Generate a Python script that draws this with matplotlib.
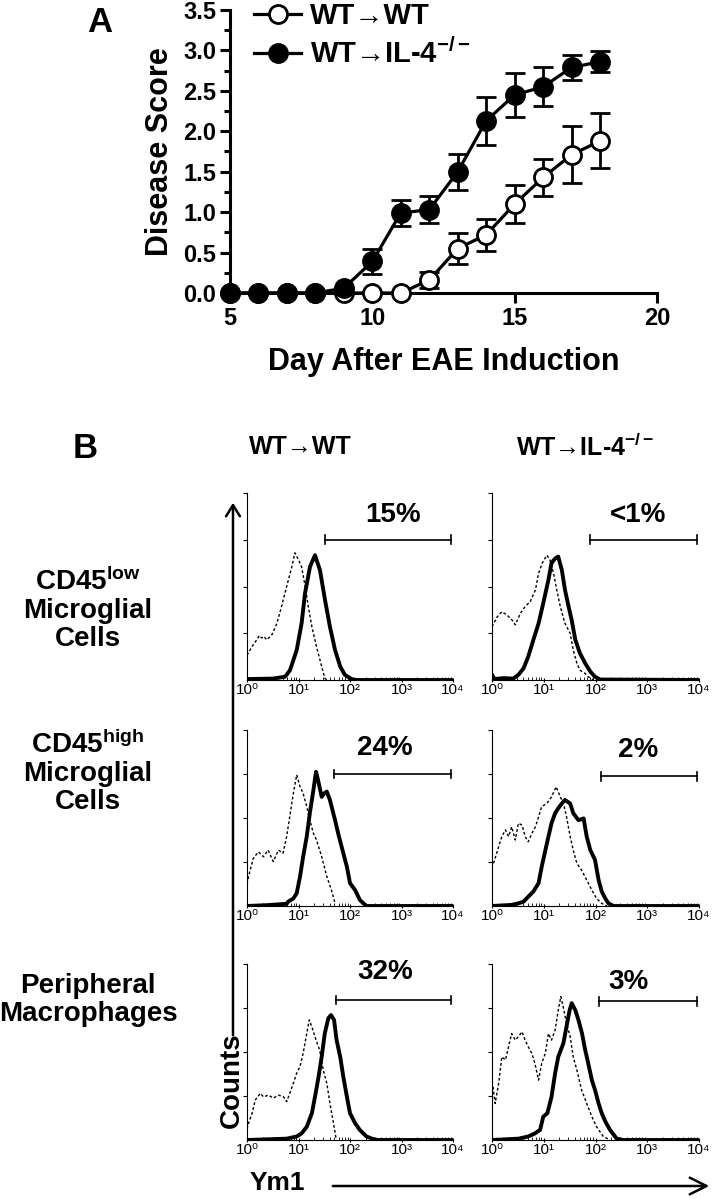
import matplotlib
matplotlib.use("Agg")
import matplotlib.pyplot as plt
import numpy as np
from matplotlib import font_manager

# ---------------- data ----------------
days = np.arange(5, 19)
wt_wt = [0, 0, 0, 0, 0, 0, 0, 0.16, 0.55, 0.72, 1.10, 1.43, 1.71, 1.88]
wt_wt_err = [0, 0, 0, 0, 0, 0, 0, 0.10, 0.19, 0.20, 0.23, 0.23, 0.35, 0.34]
wt_il4 = [0, 0, 0, 0, 0.06, 0.39, 0.99, 1.03, 1.50, 2.13, 2.45, 2.55, 2.79, 2.86]
wt_il4_err = [0, 0, 0, 0, 0, 0.16, 0.16, 0.17, 0.22, 0.30, 0.27, 0.24, 0.15, 0.13]

# histograms: x in log10(Ym1), y in axis tick units (0..4)
# row 1, WT->WT
h11_sx = [0, 0.5, 0.74, 0.835, 0.965, 1.06, 1.126, 1.223, 1.32, 1.417, 1.515, 1.61, 1.71, 1.81, 1.90, 2.03, 2.13, 4.0]
h11_sy = [0.02, 0.03, 0.07, 0.21, 0.64, 1.21, 1.85, 2.42, 2.67, 2.35, 1.71, 1.14, 0.64, 0.29, 0.11, 0.02, 0, 0]
h11_dx = [0, 0.1, 0.19, 0.24, 0.285, 0.33, 0.38, 0.43, 0.48, 0.58, 0.67, 0.77, 0.87, 0.93, 1.0, 1.06, 1.13, 1.19, 1.26, 1.35, 1.45, 1.51, 1.55]
h11_dy = [0.53, 0.72, 0.86, 0.95, 0.90, 0.93, 0.86, 0.91, 0.96, 1.21, 1.57, 2.0, 2.42, 2.72, 2.57, 2.42, 2.0, 1.57, 1.14, 0.71, 0.29, 0.04, 0]
# row 1, WT->IL-4-/-
h12_sx = [0, 0.05, 0.22, 0.41, 0.51, 0.61, 0.70, 0.80, 0.90, 0.99, 1.09, 1.15, 1.22, 1.28, 1.35, 1.41, 1.48, 1.54, 1.61, 1.70, 1.80, 1.90, 1.99, 2.09, 4.0]
h12_sy = [0.11, 0.02, 0.04, 0.03, 0.11, 0.25, 0.50, 0.86, 1.21, 1.64, 2.14, 2.50, 2.60, 2.64, 2.35, 1.93, 1.57, 1.28, 0.86, 0.57, 0.36, 0.18, 0.07, 0.01, 0]
h12_dx = [0, 0.1, 0.19, 0.29, 0.39, 0.45, 0.55, 0.64, 0.74, 0.84, 0.90, 0.97, 1.06, 1.12, 1.19, 1.25, 1.32, 1.41, 1.51, 1.57, 1.64, 1.70, 1.80, 1.86, 1.96]
h12_dy = [1.14, 1.35, 1.46, 1.39, 1.28, 1.18, 1.43, 1.57, 1.68, 1.93, 2.28, 2.50, 2.67, 2.57, 2.28, 1.93, 1.57, 1.21, 1.0, 0.64, 0.36, 0.21, 0.14, 0.07, 0]
# row 2, WT->WT
h21_sx = [0, 0.4, 0.77, 0.80, 0.90, 0.965, 1.03, 1.09, 1.16, 1.22, 1.29, 1.34, 1.38, 1.45, 1.50, 1.55, 1.61, 1.71, 1.77, 1.87, 1.94, 2.0, 2.10, 2.19, 2.26, 2.32, 4.0]
h21_sy = [0, 0.02, 0.05, 0.10, 0.17, 0.29, 0.67, 1.12, 1.58, 2.11, 2.64, 3.05, 2.86, 2.48, 2.56, 2.60, 2.41, 1.95, 1.65, 1.20, 0.89, 0.52, 0.36, 0.14, 0.06, 0, 0]
h21_dx = [0.0, 0.03, 0.12, 0.22, 0.32, 0.41, 0.51, 0.61, 0.70, 0.77, 0.83, 0.90, 0.965, 1.03, 1.09, 1.16, 1.22, 1.29, 1.35, 1.45, 1.55, 1.64, 1.71]
h21_dy = [0.5, 0.67, 1.08, 1.23, 1.12, 1.27, 1.01, 1.27, 1.20, 1.58, 2.03, 2.56, 2.98, 2.71, 2.56, 2.26, 1.95, 1.65, 1.50, 1.12, 0.67, 0.36, 0.06]
# row 2, WT->IL-4-/-
h22_sx = [0, 0.38, 0.51, 0.61, 0.70, 0.80, 0.90, 0.96, 1.06, 1.15, 1.22, 1.28, 1.35, 1.41, 1.51, 1.57, 1.67, 1.77, 1.83, 1.90, 1.99, 2.06, 2.12, 2.19, 2.25, 2.35, 4.0]
h22_sy = [0, 0.025, 0.06, 0.10, 0.21, 0.33, 0.52, 0.89, 1.42, 1.88, 2.11, 2.22, 2.33, 2.41, 2.33, 2.11, 1.95, 1.99, 1.58, 1.27, 1.05, 0.59, 0.33, 0.17, 0.06, 0, 0]
h22_dx = [0.03, 0.13, 0.19, 0.26, 0.32, 0.38, 0.45, 0.51, 0.58, 0.64, 0.70, 0.77, 0.84, 0.90, 0.96, 1.06, 1.15, 1.24, 1.32, 1.38, 1.44, 1.51, 1.57, 1.64, 1.73, 1.83, 1.93, 2.02, 2.12, 2.22]
h22_dy = [0.97, 1.35, 1.58, 1.73, 1.58, 1.80, 1.50, 1.88, 1.84, 1.58, 1.46, 1.65, 1.80, 2.03, 2.26, 2.33, 2.48, 2.71, 2.48, 2.33, 2.03, 1.58, 1.27, 0.97, 0.82, 0.59, 0.36, 0.17, 0.06, 0]
# row 3, WT->WT
h31_sx = [0, 0.77, 0.965, 1.06, 1.16, 1.26, 1.32, 1.39, 1.45, 1.51, 1.58, 1.63, 1.69, 1.74, 1.81, 1.87, 1.94, 2.0, 2.10, 2.19, 2.32, 2.45, 2.55, 4.0]
h31_sy = [0, 0.03, 0.08, 0.15, 0.30, 0.61, 0.98, 1.44, 1.89, 2.42, 2.77, 2.84, 2.73, 2.27, 1.89, 1.44, 0.98, 0.61, 0.38, 0.23, 0.08, 0.02, 0, 0]
h31_dx = [0.0, 0.03, 0.10, 0.16, 0.26, 0.32, 0.42, 0.51, 0.61, 0.71, 0.77, 0.83, 0.90, 0.965, 1.03, 1.09, 1.16, 1.21, 1.28, 1.34, 1.41, 1.48, 1.55, 1.61, 1.68, 1.73]
h31_dy = [0.25, 0.38, 0.61, 0.91, 1.06, 0.98, 1.02, 0.95, 1.02, 0.98, 0.87, 1.06, 1.29, 1.52, 1.67, 1.97, 2.42, 2.73, 2.50, 2.27, 2.05, 1.59, 1.29, 0.83, 0.38, 0.03]
# row 3, WT->IL-4-/-
h32_sx = [0, 0.51, 0.70, 0.83, 0.93, 0.99, 1.07, 1.15, 1.22, 1.28, 1.38, 1.44, 1.50, 1.54, 1.61, 1.67, 1.74, 1.80, 1.86, 1.93, 1.99, 2.06, 2.12, 2.19, 2.28, 2.41, 2.54, 4.0]
h32_sy = [0, 0.03, 0.08, 0.15, 0.23, 0.53, 0.61, 0.98, 1.52, 1.89, 2.20, 2.58, 2.95, 3.11, 2.95, 2.73, 2.42, 2.05, 1.74, 1.36, 1.14, 0.83, 0.61, 0.42, 0.23, 0.03, 0, 0]
h32_dx = [0.02, 0.06, 0.13, 0.19, 0.26, 0.32, 0.38, 0.45, 0.51, 0.58, 0.64, 0.70, 0.77, 0.83, 0.90, 0.96, 1.03, 1.09, 1.15, 1.22, 1.28, 1.33, 1.39, 1.44, 1.51, 1.57, 1.64, 1.73, 1.83, 1.93, 2.02, 2.15, 2.25]
h32_dy = [1.21, 0.83, 1.29, 1.89, 1.82, 2.12, 2.42, 2.27, 2.35, 2.46, 2.27, 2.12, 1.97, 1.74, 1.36, 1.74, 1.97, 2.42, 2.27, 2.50, 2.95, 3.26, 2.95, 2.65, 2.35, 1.89, 1.59, 1.14, 0.83, 0.53, 0.30, 0.08, 0.02]

gate_start = [[1.51, 1.90], [1.69, 2.10], [1.73, 2.07]]
gate_y = [[3.0, 3.0], [3.0, 2.95], [3.18, 3.15]]
pct_labels = [["15%", "<1%"], ["24%", "2%"], ["32%", "3%"]]
pct_x = [[2.83, 2.82], [2.68, 2.82], [2.68, 2.63]]
pct_y = [[3.53, 3.53], [3.59, 3.55], [3.82, 3.6]]
row_labels = [r"CD45$^{\mathrm{low}}$" + "\nMicroglial\nCells",
              r"CD45$^{\mathrm{high}}$" + "\nMicroglial\nCells",
              "Peripheral\nMacrophages"]
col_labels = ["WT→WT", r"WT→IL-4$^{\mathrm{-/-}}$"]
hist_tick_labels = ["10⁰", "10¹", "10²", "10³", "10⁴"]

hists = [[(h11_sx, h11_sy, h11_dx, h11_dy), (h12_sx, h12_sy, h12_dx, h12_dy)],
         [(h21_sx, h21_sy, h21_dx, h21_dy), (h22_sx, h22_sy, h22_dx, h22_dy)],
         [(h31_sx, h31_sy, h31_dx, h31_dy), (h32_sx, h32_sy, h32_dx, h32_dy)]]

# ---------------- fonts ----------------
plt.rcParams['font.family'] = ['Liberation Sans', 'DejaVu Sans']
plt.rcParams['font.weight'] = 'bold'
plt.rcParams['mathtext.fontset'] = 'custom'
plt.rcParams['mathtext.rm'] = 'Liberation Sans:bold'
plt.rcParams['mathtext.it'] = 'Liberation Sans:bold'
plt.rcParams['mathtext.bf'] = 'Liberation Sans:bold'

W, H = 716, 1199
fig = plt.figure(figsize=(W / 100, H / 100), dpi=100)


def rect(l, t, r, b):
    return [l / W, 1 - b / H, (r - l) / W, (b - t) / H]


def fx(x):
    return x / W


def fy(y):
    return 1 - y / H


# ---------------- panel A ----------------
ax = fig.add_axes(rect(230, 10, 657, 293))
ax.errorbar(days, wt_wt, yerr=wt_wt_err, fmt='none',
            ecolor='black', elinewidth=2, capsize=7, capthick=2, zorder=1)
ax.errorbar(days, wt_il4, yerr=wt_il4_err, fmt='none',
            ecolor='black', elinewidth=2, capsize=7, capthick=2, zorder=1)
ax.plot(days, wt_wt, '-o', color='black', lw=2.3, ms=13, mfc='white', mec='black',
        mew=2, clip_on=False, zorder=4, label="WT→WT")
ax.plot(days, wt_il4, '-o', color='black', lw=2.3, ms=13, mfc='black', mec='black',
        mew=2, clip_on=False, zorder=5, label=r"WT→IL-4$^{\mathrm{-/-}}$")
ax.set_xlim(5, 20)
ax.set_ylim(0, 3.5)
ax.set_xticks([5, 10, 15, 20])
ax.set_yticks(np.arange(0, 3.51, 0.5))
ax.set_yticks(np.arange(0.25, 3.5, 0.5), minor=True)
ax.set_yticklabels(["%.1f" % v for v in np.arange(0, 3.51, 0.5)])
for s in ['top', 'right']:
    ax.spines[s].set_visible(False)
for s in ['left', 'bottom']:
    ax.spines[s].set_linewidth(2.2)
ax.tick_params(axis='both', which='major', width=2.2, length=7, labelsize=17, pad=3)
ax.tick_params(axis='y', which='minor', width=2.2, length=4)
ax.set_xlabel("Day After EAE Induction", fontsize=22, fontweight='bold', labelpad=12)
ax.set_ylabel("Disease Score", fontsize=22, fontweight='bold', labelpad=6)
leg = ax.legend(loc='upper left', bbox_to_anchor=(0.03, 1.07), frameon=False, fontsize=21,
                handlelength=1.6, handletextpad=0.3, labelspacing=0.3, borderaxespad=0)
fig.text(fx(100), fy(22), "A", fontsize=25, fontweight='bold', ha='center', va='center')

# ---------------- panel B ----------------
fig.text(fx(85), fy(448), "B", fontsize=25, fontweight='bold', ha='center', va='center')
col_lr = [(247, 453), (492, 699)]
row_tb = [(493, 680), (730, 906), (964, 1140)]
col_head_x = [300, 585]
for c in range(2):
    fig.text(fx(col_head_x[c]), fy(447), col_labels[c], fontsize=18, fontweight='bold',
             ha='center', va='center')
row_label_y = [610, 773, 1000]
for r in range(3):
    fig.text(fx(88), fy(row_label_y[r]), row_labels[r], fontsize=20, fontweight='bold',
             ha='center', va='center', linespacing=1.1)

for r in range(3):
    for c in range(2):
        sx, sy, dx, dy = hists[r][c]
        l, rr = col_lr[c]
        t, b = row_tb[r]
        a = fig.add_axes(rect(l, t, rr, b))
        a.plot(dx, dy, color='black', lw=1.0, ls=(0, (2.0, 1.6)), zorder=2)
        a.plot(sx, sy, color='black', lw=2.8, zorder=3, solid_joinstyle='round')
        a.set_xlim(0, 4)
        a.set_ylim(0, 4)
        for s in ['top', 'right']:
            a.spines[s].set_visible(False)
        a.spines['left'].set_linewidth(0.8)
        a.spines['bottom'].set_linewidth(0.8)
        a.set_yticks([1, 2, 3, 4])
        a.set_yticklabels([])
        a.tick_params(axis='y', length=3, width=0.8)
        a.set_xticks(range(5))
        a.set_xticklabels(hist_tick_labels, fontsize=11, fontweight='normal')
        a.set_xticks([d + np.log10(k) for d in range(4) for k in range(2, 10)], minor=True)
        a.tick_params(axis='x', which='major', length=3, width=0.8, pad=1, direction='inout')
        a.tick_params(axis='x', which='minor', length=2, width=0.6, direction='in')
        # gate bracket
        x0 = gate_start[r][c]
        gy = gate_y[r][c]
        a.plot([x0, 3.97], [gy, gy], color='black', lw=1.2, clip_on=False)
        a.plot([x0, x0], [gy - 0.1, gy + 0.1], color='black', lw=1.2, clip_on=False)
        a.plot([3.97, 3.97], [gy - 0.1, gy + 0.1], color='black', lw=1.2, clip_on=False)
        a.text(pct_x[r][c], pct_y[r][c], pct_labels[r][c], fontsize=20, fontweight='bold',
               ha='center', va='center', clip_on=False)

# Counts arrow
fig.patches.append(matplotlib.patches.FancyArrowPatch(
    (fx(233), fy(1038)), (fx(233), fy(500)), transform=fig.transFigure,
    arrowstyle='->,head_length=8,head_width=5', lw=1.8, color='black', mutation_scale=1))
fig.text(fx(232), fy(1080), "Counts", fontsize=20, fontweight='bold', rotation=90,
         ha='center', va='center')
# Ym1 arrow
fig.text(fx(250), fy(1183), "Ym1", fontsize=19, fontweight='bold', ha='left', va='center')
fig.patches.append(matplotlib.patches.FancyArrowPatch(
    (fx(330), fy(1186)), (fx(712), fy(1186)), transform=fig.transFigure,
    arrowstyle='->,head_length=12,head_width=6', lw=1.8, color='black', mutation_scale=1))

fig.savefig("out.png", dpi=100)
